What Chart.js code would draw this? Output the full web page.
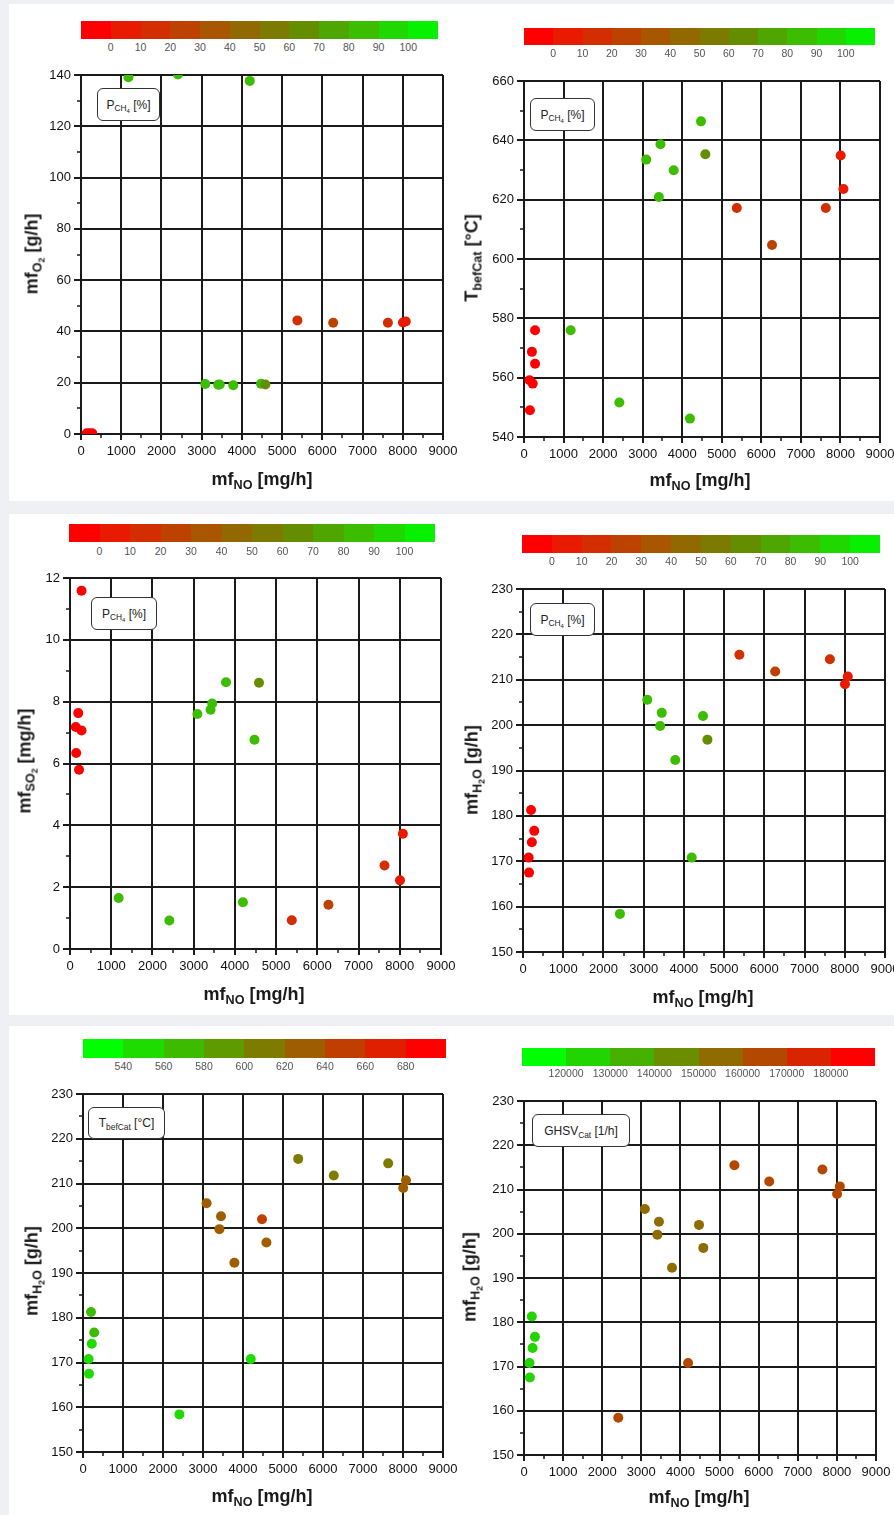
<!DOCTYPE html>
<html>
<head>
<meta charset="utf-8">
<script src="https://cdn.jsdelivr.net/npm/chart.js@4.4.1/dist/chart.umd.min.js"></script>
<style>
  html, body { margin:0; padding:0; background:#eef0f3; }
  #root { position:relative; width:894px; height:1515px; background:#eef0f3; overflow:hidden; font-family:"Liberation Sans", Arial, sans-serif; }
  .row { position:absolute; left:9px; width:885px; background:#fff; }
  .wrap { position:absolute; }
  .cbar { position:absolute; display:flex; }
  .cbar div { flex:1 1 0; height:100%; }
  .cblab { position:absolute; font-size:10.5px; color:#555; transform:translate(-50%,-50%); white-space:nowrap; }
  .xt { position:absolute; font-size:18px; font-weight:bold; color:#1a1a1a; transform:translate(-50%,-50%); white-space:nowrap; }
  .yt { position:absolute; font-size:18px; font-weight:bold; color:#1a1a1a; transform:translate(-50%,-50%) rotate(-90deg); white-space:nowrap; }
  sub { font-size:70%; vertical-align:-0.35em; line-height:0; }
  .leg { position:absolute; box-sizing:border-box; border:1.5px solid #333; border-radius:6px; background:#fff; display:flex; align-items:center; justify-content:center; font-size:12px; color:#222; white-space:nowrap; }
  .leg span.t { display:inline-block; }
</style>
</head>
<body>
<div id="root">
  <div class="row" style="top:4px;height:497px"></div>
  <div class="row" style="top:514px;height:501px"></div>
  <div class="row" style="top:1026px;height:489px"></div>
</div>
<script>
// ---------------- DATA ----------------
// shared x values: mass flow NO [mg/h]
const mfNO    = [280, 200, 280, 140, 220, 150, 1180, 2410, 4195, 3090, 3450, 3410, 3785, 4475, 4585, 5380, 6270, 7630, 8005, 8075];
// mass flow O2 [g/h]
const mfO2    = [0.2, 0.2, 0.2, 0.2, 0.2, 0.2, 139.1, 140.2, 137.7, 19.5, 19.3, 19.2, 19.0, 19.6, 19.3, 44.3, 43.4, 43.4, 43.5, 43.9];
// temperature before catalyst [°C]
const tBefCat = [576, 568.7, 564.7, 559.1, 558, 549, 576, 551.6, 546.2, 633.5, 638.7, 620.9, 629.9, 646.4, 635.3, 617.2, 604.7, 617.2, 634.9, 623.6];
// mass flow SO2 [mg/h]
const mfSO2   = [11.59, 7.63, 7.07, 7.18, 5.80, 6.34, 1.65, 0.92, 1.51, 7.60, 7.94, 7.74, 8.63, 6.77, 8.61, 0.93, 1.43, 2.70, 2.22, 3.73];
// mass flow H2O [g/h]
const mfH2O   = [176.7, 181.3, null, 170.8, 174.2, 167.5, null, 158.4, 170.8, 205.6, 202.7, 199.8, 192.3, 202.0, 196.8, 215.5, 211.8, 214.5, 209.0, 210.7];
// colour variables
const pCH4    = [0, 0, 0, 0, 0, 0, 88, 88, 90, 82, 84, 86, 84, 86, 62, 15, 25, 15, 8, 8];
const ghsvCat = [128000, 128000, 128000, 128000, 128000, 128000, null, 165000, 165000, 155000, 155000, 155000, 155000, 155000, 155000, 165000, 165000, 165000, 165000, 165000];

// colour-bar tick labels
const pch4Ticks = [0, 10, 20, 30, 40, 50, 60, 70, 80, 90, 100];
const tTicks    = [540, 560, 580, 600, 620, 640, 660, 680];
const ghsvTicks = [120000, 130000, 140000, 150000, 160000, 170000, 180000];

// axis tick settings
const xAxisTicks = { min: 0, max: 9000, step: 1000 };

// ---------------- STYLE ----------------
const PCH4_COLORS = ['#ff0000','#e81a00','#d22e00','#bd4200','#a85600','#926800','#7c7a00','#658d00','#4fa600','#3cbd00','#20d800','#06f000'];
const T_COLORS    = ['#00ff00','#1fdc00','#3dbb00','#5d9b00','#7e7c00','#9e5e00','#c03f00','#e01f00','#ff0000'];
const GHSV_COLORS = ['#00ff00','#22d400','#46b000','#6b8d00','#8f6b00','#b44800','#d92400','#ff0000'];

const FONT = '"Liberation Sans", Arial, sans-serif';
const LINE = '#1a1a1a';
const root = document.getElementById('root');

function colorFor(v, bounds, colors) {
  if (v === null || v === undefined) return 'rgba(0,0,0,0)';
  let i = 0;
  for (const b of bounds) if (b < v) i++;
  return colors[i];
}

const minorTicks = {
  id: 'minorTicks',
  afterDraw(chart) {
    const { ctx, chartArea: a, scales: { x, y } } = chart;
    const xs = chart.options.scales.x.ticks.stepSize, ys = chart.options.scales.y.ticks.stepSize;
    ctx.save();
    ctx.strokeStyle = LINE; ctx.lineWidth = 1.5;
    ctx.beginPath();
    for (let v = x.min + xs / 2; v < x.max; v += xs) {
      const p = Math.round(x.getPixelForValue(v));
      ctx.moveTo(p, a.bottom); ctx.lineTo(p, a.bottom + 4);
    }
    for (let v = y.min + ys / 2; v < y.max; v += ys) {
      const p = Math.round(y.getPixelForValue(v));
      ctx.moveTo(a.left - 4, p); ctx.lineTo(a.left, p);
    }
    ctx.stroke();
    ctx.restore();
  }
};

function addEl(cls, html, style) {
  const d = document.createElement('div');
  d.className = cls; d.innerHTML = html;
  Object.assign(d.style, style);
  root.appendChild(d);
  return d;
}

function colorbar(cb, ticks, colors) {
  const bar = addEl('cbar', '', { left: cb.l + 'px', top: cb.t + 'px', width: (cb.r - cb.l) + 'px', height: (cb.b - cb.t) + 'px' });
  colors.forEach(c => { const s = document.createElement('div'); s.style.background = c; bar.appendChild(s); });
  const segW = (cb.r - cb.l) / colors.length;
  ticks.forEach((t, i) => addEl('cblab', String(t), { left: (cb.l + (i + 1) * segW) + 'px', top: cb.ly + 'px' }));
}

function panel(p) {
  const PL = 60, PT = 15, PR = 25, PB = 35;
  const w = p.R - p.L + PL + PR, h = p.B - p.T + PT + PB;
  const wrap = addEl('wrap', '', { left: (p.L - PL) + 'px', top: (p.T - PT) + 'px', width: w + 'px', height: h + 'px' });
  const cv = document.createElement('canvas');
  cv.width = w; cv.height = h; cv.style.width = w + 'px'; cv.style.height = h + 'px';
  wrap.appendChild(cv);

  const pts = [], cols = [];
  mfNO.forEach((xv, i) => {
    if (p.yData[i] === null) return;
    pts.push({ x: xv, y: p.yData[i] });
    cols.push(colorFor(p.cData[i], p.cTicks, p.cColors));
  });

  new Chart(cv, {
    type: 'scatter',
    data: { datasets: [{ data: pts, pointBackgroundColor: cols, pointBorderWidth: 0, pointRadius: 5, pointHoverRadius: 5, clip: 0 }] },
    options: {
      responsive: false, animation: false, devicePixelRatio: 1,
      layout: { padding: { left: 0, top: PT, right: PR, bottom: 0 } },
      plugins: { legend: { display: false }, tooltip: { enabled: false } },
      events: [],
      scales: {
        x: {
          type: 'linear', min: xAxisTicks.min, max: xAxisTicks.max,
          ticks: { stepSize: xAxisTicks.step, autoSkip: false, maxRotation: 0, padding: 4, color: '#111', font: { family: FONT, size: 13 }, callback: v => String(v) },
          grid: { color: LINE, lineWidth: 2, tickLength: 6 },
          border: { color: LINE, width: 2 },
          afterFit: s => { s.height = PB; }
        },
        y: {
          type: 'linear', min: p.ymin, max: p.ymax,
          ticks: { stepSize: p.ystep, autoSkip: false, padding: 3, color: '#111', font: { family: FONT, size: 13 }, callback: v => String(v) },
          grid: { color: LINE, lineWidth: 2, tickLength: 7 },
          border: { color: LINE, width: 2 },
          afterFit: s => { s.width = PL; }
        }
      }
    },
    plugins: [minorTicks]
  });

  colorbar(p.cb, p.cTicks, p.cColors);
  addEl('leg', '<span class="t">' + p.legend + '</span>', { left: p.lg.l + 'px', top: p.lg.t + 'px', width: (p.lg.r - p.lg.l) + 'px', height: (p.lg.b - p.lg.t) + 'px' });
  addEl('xt', 'mf<sub>NO</sub> [mg/h]', { left: p.xt[0] + 'px', top: p.xt[1] + 'px' });
  addEl('yt', p.ytitle, { left: p.yt[0] + 'px', top: p.yt[1] + 'px' });
}

const PCH4_LEG = 'P<sub>CH<sub>4</sub></sub> [%]';

panel({ L: 81, T: 75, R: 443, B: 434, ymin: 0, ymax: 140, ystep: 20, yData: mfO2,
  cData: pCH4, cTicks: pch4Ticks, cColors: PCH4_COLORS,
  cb: { l: 81, r: 438, t: 21, b: 39, ly: 47 }, lg: { l: 97, r: 160, t: 88, b: 121 }, legend: PCH4_LEG,
  xt: [262, 479], yt: [32, 254], ytitle: 'mf<sub>O<sub>2</sub></sub> [g/h]' });

panel({ L: 524, T: 81, R: 880, B: 437, ymin: 540, ymax: 660, ystep: 20, yData: tBefCat,
  cData: pCH4, cTicks: pch4Ticks, cColors: PCH4_COLORS,
  cb: { l: 524, r: 875, t: 28, b: 45, ly: 53 }, lg: { l: 530, r: 595, t: 98, b: 131 }, legend: PCH4_LEG,
  xt: [700, 480], yt: [472, 258], ytitle: 'T<sub>befCat</sub> [°C]' });

panel({ L: 70, T: 578, R: 441, B: 949, ymin: 0, ymax: 12, ystep: 2, yData: mfSO2,
  cData: pCH4, cTicks: pch4Ticks, cColors: PCH4_COLORS,
  cb: { l: 69, r: 435, t: 524, b: 542, ly: 551 }, lg: { l: 91, r: 157, t: 597, b: 630 }, legend: PCH4_LEG,
  xt: [254, 994], yt: [25, 761], ytitle: 'mf<sub>SO<sub>2</sub></sub> [mg/h]' });

panel({ L: 523, T: 589, R: 885, B: 952, ymin: 150, ymax: 230, ystep: 10, yData: mfH2O,
  cData: pCH4, cTicks: pch4Ticks, cColors: PCH4_COLORS,
  cb: { l: 522, r: 880, t: 535, b: 553, ly: 561 }, lg: { l: 530, r: 595, t: 603, b: 636 }, legend: PCH4_LEG,
  xt: [703, 997], yt: [472, 770], ytitle: 'mf<sub>H<sub>2</sub>O</sub> [g/h]' });

panel({ L: 83, T: 1094, R: 443, B: 1452, ymin: 150, ymax: 230, ystep: 10, yData: mfH2O,
  cData: tBefCat, cTicks: tTicks, cColors: T_COLORS,
  cb: { l: 83, r: 446, t: 1039, b: 1058, ly: 1066 }, lg: { l: 88, r: 165, t: 1107, b: 1139 }, legend: 'T<sub>befCat</sub> [°C]',
  xt: [262, 1496], yt: [32, 1271], ytitle: 'mf<sub>H<sub>2</sub>O</sub> [g/h]' });

panel({ L: 524, T: 1101, R: 876, B: 1455, ymin: 150, ymax: 230, ystep: 10, yData: mfH2O,
  cData: ghsvCat, cTicks: ghsvTicks, cColors: GHSV_COLORS,
  cb: { l: 522, r: 875, t: 1048, b: 1066, ly: 1073 }, lg: { l: 532, r: 630, t: 1114, b: 1147 }, legend: 'GHSV<sub>Cat</sub> [1/h]',
  xt: [699, 1497], yt: [470, 1277], ytitle: 'mf<sub>H<sub>2</sub>O</sub> [g/h]' });
</script>
</body>
</html>
